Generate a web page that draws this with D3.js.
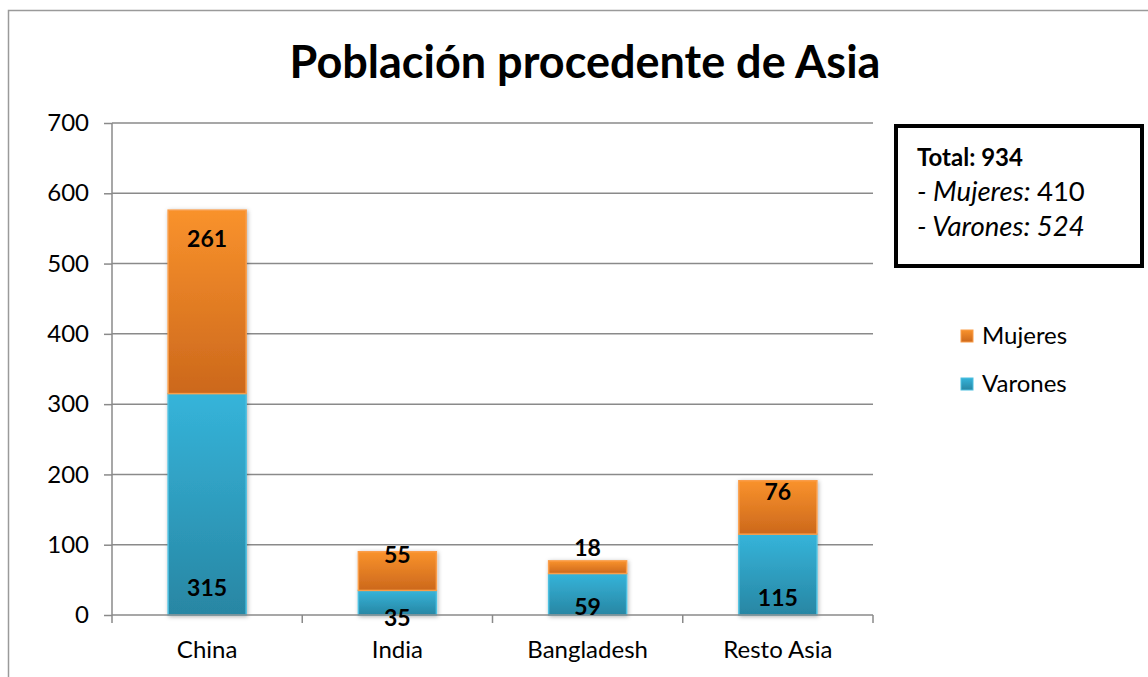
<!DOCTYPE html>
<html>
<head>
<meta charset="utf-8">
<script src="https://cdn.jsdelivr.net/npm/d3@7"></script>
<style>
  body { margin: 0; background: #fff; }
  svg { display: block; font-family: Lato, "Open Sans", sans-serif; }
</style>
</head>
<body>
<svg id="chart" width="1148" height="677"></svg>
<script>
// data
const categories = ["China", "India", "Bangladesh", "Resto Asia"];
const varones = [315, 35, 59, 115];
const mujeres = [261, 55, 18, 76];
const yTicks = [0, 100, 200, 300, 400, 500, 600, 700];
const seriesNames = ["Mujeres", "Varones"];
const totalLines = ["Total: 934", "Mujeres: 410", "Varones: 524"];

// label nudges (px, relative to default position) - hand placed in the original
const varLabelDy = [0, 30, 19, 10];
const mujLabelDy = [0, -26, -42, -18];

let svg = d3.select("#chart");
let margin = {left: 112, right: 275, top: 123, bottom: 62};
let W = 1148, H = 677;

let x = d3.scaleBand().domain(categories).range([margin.left, W - margin.right]).paddingInner(0.59).paddingOuter(0.295);
let xOuter = d3.scaleBand().domain(categories).range([margin.left, W - margin.right]);
let y = d3.scaleLinear().domain([0, 700]).range([H - margin.bottom, margin.top]);

// outer frame
svg.append("rect").attr("x", 8.5).attr("y", 10.5).attr("width", 1160).attr("height", 700)
  .attr("fill", "none").attr("stroke", "#9a9a9a").attr("stroke-width", 1.5);

// gradients
let defs = svg.append("defs");
function grad(id, c1, c2) {
  let g = defs.append("linearGradient").attr("id", id).attr("x1", 0).attr("y1", 0).attr("x2", 0).attr("y2", 1);
  g.append("stop").attr("offset", "0%").attr("stop-color", c1);
  g.append("stop").attr("offset", "100%").attr("stop-color", c2);
}
grad("gVar", "#35b4da", "#2886a3");
grad("gMuj", "#f9922c", "#cc681c");
let f = defs.append("filter").attr("id", "shadow").attr("x", "-20%").attr("y", "-20%").attr("width", "140%").attr("height", "140%");
f.append("feDropShadow").attr("dx", 1).attr("dy", 1).attr("stdDeviation", 2).attr("flood-color", "#000").attr("flood-opacity", 0.3);

// title
svg.append("text").attr("x", 585).attr("y", 78).attr("text-anchor", "middle")
  .attr("font-size", 45).attr("font-weight", "bold").attr("fill", "#000")
  .text("Población procedente de Asia");

// gridlines
svg.append("g").selectAll("line").data(yTicks.slice(1)).join("line")
  .attr("x1", margin.left).attr("x2", W - margin.right)
  .attr("y1", d => y(d)).attr("y2", d => y(d))
  .attr("stroke", "#8a8a8a").attr("stroke-width", 1.5);

// y axis
let yAxis = svg.append("g").attr("transform", `translate(${margin.left},0)`)
  .call(d3.axisLeft(y).tickValues(yTicks).tickSize(8).tickPadding(15));
yAxis.select(".domain").attr("stroke", "#8a8a8a").attr("stroke-width", 1.5).attr("d", `M-0,${y(700)}V${y(0)}`);
yAxis.selectAll(".tick line").attr("stroke", "#8a8a8a").attr("stroke-width", 1.5);
yAxis.selectAll(".tick text").attr("font-size", 24).attr("font-family", "Lato, sans-serif").attr("fill", "#000");

// bars
let stack = categories.map((c, i) => ({c, i, v: varones[i], m: mujeres[i]}));
let bars = svg.append("g").attr("filter", "url(#shadow)");
bars.selectAll("rect.var").data(stack).join("rect").attr("class", "var")
  .attr("x", d => x(d.c)).attr("width", x.bandwidth())
  .attr("y", d => y(d.v)).attr("height", d => y(0) - y(d.v))
  .attr("fill", "url(#gVar)").attr("stroke", "#4cbfe0").attr("stroke-width", 1.5);
bars.selectAll("rect.muj").data(stack).join("rect").attr("class", "muj")
  .attr("x", d => x(d.c)).attr("width", x.bandwidth())
  .attr("y", d => y(d.v + d.m)).attr("height", d => y(d.v) - y(d.v + d.m))
  .attr("fill", "url(#gMuj)").attr("stroke", "#fa9d48").attr("stroke-width", 1.5);

// x axis
let xAxisG = svg.append("g");
xAxisG.append("line").attr("x1", margin.left).attr("x2", W - margin.right)
  .attr("y1", y(0)).attr("y2", y(0)).attr("stroke", "#8a8a8a").attr("stroke-width", 1.5);
let bounds = categories.map(c => xOuter(c)).concat([W - margin.right]);
xAxisG.selectAll("line.tk").data(bounds).join("line").attr("class", "tk")
  .attr("x1", d => d).attr("x2", d => d).attr("y1", y(0)).attr("y2", y(0) + 8)
  .attr("stroke", "#8a8a8a").attr("stroke-width", 1.5);
xAxisG.selectAll("text").data(categories).join("text")
  .attr("x", d => x(d) + x.bandwidth() / 2).attr("y", y(0) + 43)
  .attr("text-anchor", "middle").attr("font-size", 24).attr("fill", "#000").text(d => d);

// data labels
let labels = svg.append("g").attr("font-size", 23).attr("font-weight", "bold").attr("text-anchor", "middle").attr("fill", "#000");
labels.selectAll("text.v").data(stack).join("text").attr("class", "v")
  .attr("x", d => x(d.c) + x.bandwidth() / 2)
  .attr("y", d => y(0) - 19 + varLabelDy[d.i])
  .text(d => d.v);
labels.selectAll("text.m").data(stack).join("text").attr("class", "m")
  .attr("x", d => x(d.c) + x.bandwidth() / 2)
  .attr("y", d => y(d.v + d.m) + 37 + mujLabelDy[d.i])
  .text(d => d.m);

// total box
let box = svg.append("g");
box.append("rect").attr("x", 896).attr("y", 126).attr("width", 246).attr("height", 140)
  .attr("fill", "#fff").attr("stroke", "#000").attr("stroke-width", 4);
box.append("text").attr("x", 917).attr("y", 166).attr("font-size", 24).attr("font-weight", "bold").text(totalLines[0]);
let l2 = box.append("text").attr("x", 917).attr("y", 201).attr("font-size", 27.5);
l2.append("tspan").attr("font-style", "italic").text("- " + totalLines[1].split(" ")[0] + " ");
l2.append("tspan").text(totalLines[1].split(" ")[1]);
box.append("text").attr("x", 917).attr("y", 236).attr("font-size", 27.5).attr("font-style", "italic").text("- " + totalLines[2]);

// legend
let legend = svg.append("g");
let legFill = {"Mujeres": "url(#gMuj)", "Varones": "url(#gVar)"};
let legStroke = {"Mujeres": "#fa9d48", "Varones": "#4cbfe0"};
seriesNames.forEach((s, i) => {
  let ly = 336 + i * 48;
  legend.append("rect").attr("x", 961).attr("y", ly - 6).attr("width", 12).attr("height", 12)
    .attr("fill", legFill[s]).attr("stroke", legStroke[s]).attr("stroke-width", 1);
  legend.append("text").attr("x", 982).attr("y", ly + 8).attr("font-size", 24).text(s);
});
</script>
</body>
</html>
